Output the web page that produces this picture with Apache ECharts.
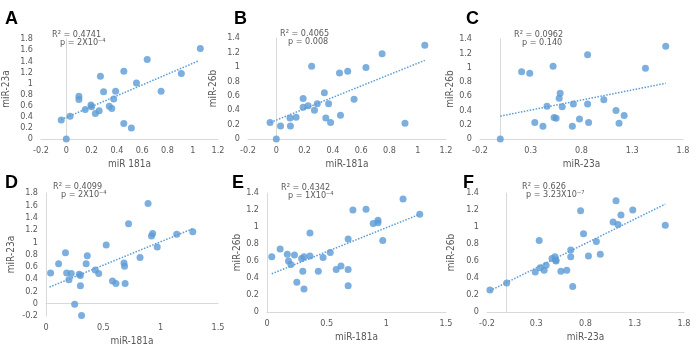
<!DOCTYPE html>
<html>
<head>
<meta charset="utf-8">
<script src="https://cdn.jsdelivr.net/npm/echarts@6/dist/echarts.min.js"></script>
<style>
    html, body { margin: 0; padding: 0; background: #fff; }
    #box { width: 700px; height: 347px; }
</style>
</head>
<body>
<div id="box"></div>
<script>
// A: miR-181a vs miR-23a
var aX = [-0.04, 0, 0.03, 0.10, 0.10, 0.15, 0.195, 0.20, 0.23, 0.26, 0.27, 0.295, 0.34, 0.36, 0.375, 0.39, 0.455, 0.455, 0.515, 0.555, 0.64, 0.75, 0.91, 1.06];
var aY = [0.34, 0, 0.41, 0.77, 0.71, 0.53, 0.61, 0.58, 0.46, 0.51, 1.13, 0.85, 0.59, 0.55, 0.72, 0.86, 1.22, 0.28, 0.20, 1.01, 1.43, 0.86, 1.18, 1.63];
var aTrend = [[-0.04, 0.35], [1.05, 1.41]];
// B: miR-181a vs miR-26b
var bX = [-0.044, 0, 0.03, 0.10, 0.097, 0.14, 0.19, 0.19, 0.225, 0.25, 0.27, 0.29, 0.34, 0.35, 0.37, 0.384, 0.447, 0.454, 0.505, 0.55, 0.634, 0.748, 0.91, 1.05];
var bY = [0.23, 0, 0.18, 0.18, 0.29, 0.30, 0.44, 0.56, 0.46, 1.01, 0.40, 0.49, 0.64, 0.29, 0.49, 0.23, 0.915, 0.33, 0.94, 0.55, 0.99, 1.18, 0.22, 1.30];
var bTrend = [[-0.04, 0.23], [1.05, 1.09]];
// C: miR-23a vs miR-26b
var cX = [0, 0.21, 0.29, 0.34, 0.42, 0.46, 0.52, 0.53, 0.55, 0.58, 0.59, 0.61, 0.71, 0.72, 0.78, 0.86, 0.86, 0.87, 1.02, 1.14, 1.17, 1.22, 1.43, 1.63];
var cY = [0, 0.94, 0.92, 0.23, 0.18, 0.46, 1.02, 0.30, 0.29, 0.57, 0.64, 0.45, 0.18, 0.49, 0.28, 0.49, 1.18, 0.23, 0.55, 0.40, 0.22, 0.33, 0.99, 1.30];
var cTrend = [[0, 0.32], [1.63, 0.78]];
// D: miR-181a vs miR-23a
var dX = [0.04, 0.11, 0.17, 0.18, 0.20, 0.22, 0.25, 0.29, 0.30, 0.30, 0.31, 0.35, 0.36, 0.43, 0.46, 0.525, 0.58, 0.61, 0.68, 0.685, 0.69, 0.72, 0.82, 0.89, 0.92, 0.93, 0.97, 1.14, 1.28];
var dY = [0.50, 0.65, 0.83, 0.50, 0.39, 0.49, -0.01, 0.48, 0.46, 0.29, -0.19, 0.65, 0.78, 0.55, 0.49, 0.955, 0.37, 0.33, 0.66, 0.61, 0.33, 1.30, 0.75, 1.63, 1.10, 1.14, 0.92, 1.13, 1.17];
var dTrend = [[0.03, 0.27], [1.28, 1.22]];
// E: miR-181a vs miR-26b
var eX = [0.04, 0.11, 0.17, 0.18, 0.20, 0.23, 0.25, 0.29, 0.30, 0.31, 0.31, 0.36, 0.36, 0.43, 0.47, 0.53, 0.58, 0.62, 0.68, 0.68, 0.68, 0.72, 0.83, 0.89, 0.93, 0.93, 0.97, 1.14, 1.28];
var eY = [0.65, 0.74, 0.68, 0.60, 0.56, 0.67, 0.35, 0.63, 0.48, 0.65, 0.27, 0.66, 0.93, 0.48, 0.64, 0.70, 0.50, 0.54, 0.86, 0.50, 0.31, 1.20, 1.21, 1.04, 1.08, 1.05, 0.84, 1.33, 1.15];
var eTrend = [[0.04, 0.45], [1.28, 1.15]];
// F: miR-23a vs miR-26b
var fX = [-0.17, 0.0, 0.29, 0.34, 0.33, 0.38, 0.40, 0.46, 0.49, 0.50, 0.50, 0.55, 0.61, 0.65, 0.65, 0.67, 0.75, 0.78, 0.83, 0.91, 0.95, 1.08, 1.11, 1.13, 1.16, 1.28, 1.61];
var fY = [0.26, 0.34, 0.47, 0.52, 0.84, 0.49, 0.55, 0.63, 0.65, 0.61, 0.60, 0.48, 0.49, 0.73, 0.65, 0.30, 1.19, 0.92, 0.66, 0.83, 0.68, 1.06, 1.31, 1.03, 1.14, 1.20, 1.02];
var fTrend = [[-0.17, 0.25], [1.61, 1.27]];

var rTexts = ['R² = 0.4741', 'R² = 0.4065', 'R² = 0.0962', 'R² = 0.4099', 'R² = 0.4342', 'R² = 0.626'];
var pTexts = ['p = 2X10⁻⁴', 'p = 0.008', 'p = 0.140', 'p = 2X10⁻⁴', 'p = 1X10⁻⁴', 'p = 3.23X10⁻⁷'];
var letters = ['A', 'B', 'C', 'D', 'E', 'F'];
var xNames = ['miR 181a', 'miR-181a', 'miR-23a', 'miR-181a', 'miR-181a', 'miR-23a'];
var yNames = ['miR-23a', 'miR-26b', 'miR-26b', 'miR-23a', 'miR-26b', 'miR-26b'];

// layout of each panel
var panels = [
    {x: aX, y: aY, t: aTrend, grid: {left: 18, top: 39, width: 200, height: 100}, xr: [-0.2, 1.2, 0.2], yr: [0, 1.8, 0.2], yGap: 30, letter: [5, 10], r: [52, 30], p: [60, 38]},
    {x: bX, y: bY, t: bTrend, grid: {left: 248, top: 38, width: 198, height: 101}, xr: [-0.2, 1.2, 0.2], yr: [0, 1.4, 0.2], yGap: 30, letter: [234, 10], r: [280, 29], p: [288, 37]},
    {x: cX, y: cY, t: cTrend, grid: {left: 480, top: 39, width: 203, height: 100}, xr: [-0.2, 1.8, 0.5], yr: [0, 1.4, 0.2], yGap: 21, letter: [466, 10], r: [514, 30], p: [522, 38]},
    {x: dX, y: dY, t: dTrend, grid: {left: 46, top: 193, width: 172, height: 132}, xr: [0, 1.5, 0.5], yr: [-0.2, 1.8, 0.2], yGap: 30, letter: [5, 174], r: [53, 182], p: [61, 190]},
    {x: eX, y: eY, t: eTrend, grid: {left: 267, top: 193, width: 179, height: 119}, xr: [0, 1.5, 0.5], yr: [0, 1.4, 0.2], yGap: 22, letter: [232, 174], r: [281, 183], p: [288, 191]},
    {x: fX, y: fY, t: fTrend, grid: {left: 487, top: 193, width: 197, height: 119}, xr: [-0.2, 1.8, 0.5], yr: [0, 1.4, 0.2], yGap: 31, letter: [463, 174], r: [522, 182], p: [526, 190]}
];

var FONT = "'Liberation Sans Narrow', 'DejaVu Sans Condensed', 'Liberation Sans', sans-serif";
var TXT = '#595959';
var DOT = '#5b9bd5';

var option = {
    animation: false,
    backgroundColor: '#fff',
    grid: [], xAxis: [], yAxis: [], series: [], graphic: []
};

panels.forEach(function (pn, i) {
    option.grid.push(pn.grid);
    option.xAxis.push({
        type: 'value', gridIndex: i,
        min: pn.xr[0], max: pn.xr[1], interval: pn.xr[2],
        name: xNames[i], nameLocation: 'middle', nameGap: 20,
        nameTextStyle: {color: TXT, fontSize: 10, fontFamily: FONT},
        axisLine: {onZero: true, lineStyle: {color: '#d9d9d9'}},
        axisTick: {show: false},
        splitLine: {show: false},
        axisLabel: {color: TXT, fontSize: 9, fontFamily: FONT, margin: 7}
    });
    option.yAxis.push({
        type: 'value', gridIndex: i,
        min: pn.yr[0], max: pn.yr[1], interval: pn.yr[2],
        name: yNames[i], nameLocation: 'middle', nameGap: pn.yGap,
        nameTextStyle: {color: TXT, fontSize: 10, fontFamily: FONT},
        axisLine: {show: true, onZero: true, lineStyle: {color: '#d9d9d9'}},
        axisTick: {show: false},
        splitLine: {show: false},
        axisLabel: {color: TXT, fontSize: 9, fontFamily: FONT, margin: 8}
    });
    var pts = pn.x.map(function (v, k) { return [v, pn.y[k]]; });
    option.series.push({
        type: 'line', xAxisIndex: i, yAxisIndex: i,
        data: pn.t, symbol: 'none', silent: true,
        lineStyle: {color: DOT, width: 1.5, type: [1.5, 1.5]}
    });
    option.series.push({
        type: 'scatter', xAxisIndex: i, yAxisIndex: i,
        data: pts, symbolSize: 7,
        itemStyle: {color: DOT}
    });
    option.graphic.push(
        {type: 'text', left: pn.letter[0], top: pn.letter[1],
            style: {text: letters[i], fill: '#000', font: 'bold 18px "Liberation Sans", Arial, sans-serif'}},
        {type: 'text', left: pn.r[0], top: pn.r[1],
            style: {text: rTexts[i], fill: TXT, font: '9px ' + FONT}},
        {type: 'text', left: pn.p[0], top: pn.p[1],
            style: {text: pTexts[i], fill: TXT, font: '9px ' + FONT}}
    );
});

var chart = echarts.init(document.getElementById('box'));
chart.setOption(option);
</script>
</body>
</html>
